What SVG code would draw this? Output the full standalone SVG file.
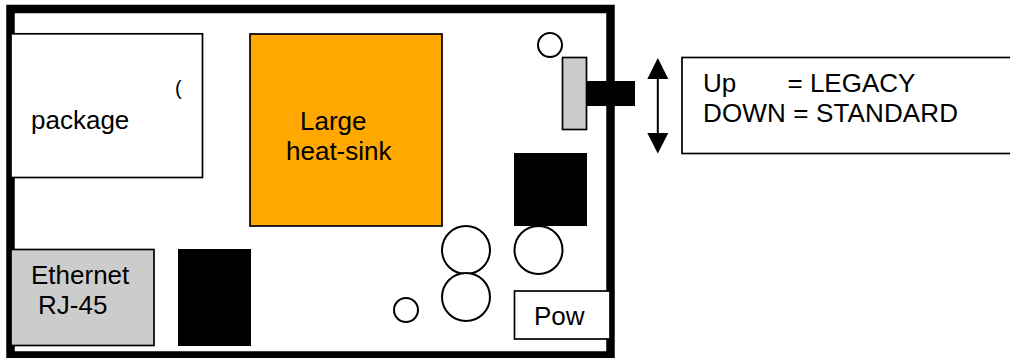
<svg xmlns="http://www.w3.org/2000/svg" width="1010" height="358" viewBox="0 0 1010 358">
<style>
text{font-family:"Liberation Sans",Arial,sans-serif;font-size:26px;fill:#000}
.o{stroke:#000;stroke-width:1.7;fill:#fff}
.g{stroke:#000;stroke-width:1.7;fill:#ccc}
.c{stroke:#000;stroke-width:2;fill:#fff}
.b{fill:#000}
</style>
<rect width="1010" height="358" fill="#fff"/>
<g id="board"><rect x="10.500" y="9" width="600" height="346.500" fill="#fff" stroke="#000" stroke-width="8.500"/></g>
<g id="package"><rect class="o" x="11" y="33.800" width="191.500" height="143.700"/><text x="31" y="129">package</text><text x="175" y="94.500" style="font-size:20px">(</text></g>
<g id="heat-sink"><rect x="250" y="34" width="192" height="192" fill="#ffa800" stroke="#000" stroke-width="1.700"/><text x="300" y="130">Large</text><text x="286" y="160">heat-sink</text></g>
<g id="ethernet"><rect class="g" x="11" y="249.500" width="143" height="96"/><text x="31" y="284">Ethernet</text><text x="38" y="314">RJ-45</text></g>
<g id="chip-a"><rect class="b" x="178" y="249" width="73" height="97"/></g>
<g id="chip-b"><rect class="b" x="514" y="153" width="73" height="73"/></g>
<g id="cap-1"><circle class="c" cx="466" cy="250" r="24"/></g>
<g id="cap-2"><circle class="c" cx="466" cy="297" r="24"/></g>
<g id="cap-3"><circle class="c" cx="538.500" cy="250" r="24"/></g>
<g id="hole-1"><circle class="c" cx="406" cy="310" r="12"/></g>
<g id="hole-2"><circle class="c" cx="550" cy="45" r="12"/></g>
<g id="power"><rect class="o" x="514.500" y="291" width="95.500" height="48"/><text x="534" y="325">Pow</text></g>
<g id="switch"><rect class="g" x="562.500" y="57.500" width="24" height="72"/><rect class="b" x="586" y="81" width="49" height="25"/></g>
<g id="connectors"><path d="M657.800 76V136" stroke="#000" stroke-width="2" fill="none"/><path class="b" d="M657.800 58L668.300 79H647.300Z"/><path class="b" d="M657.800 153.500L668.300 133H647.300Z"/></g>
<g id="legend"><rect x="682" y="57.500" width="340" height="96" fill="#fff" stroke="#000" stroke-width="1.700"/><text x="703" y="92">Up<tspan x="787.500">= LEGACY</tspan></text><text x="703" y="122" textLength="255">DOWN = STANDARD</text></g>
</svg>
